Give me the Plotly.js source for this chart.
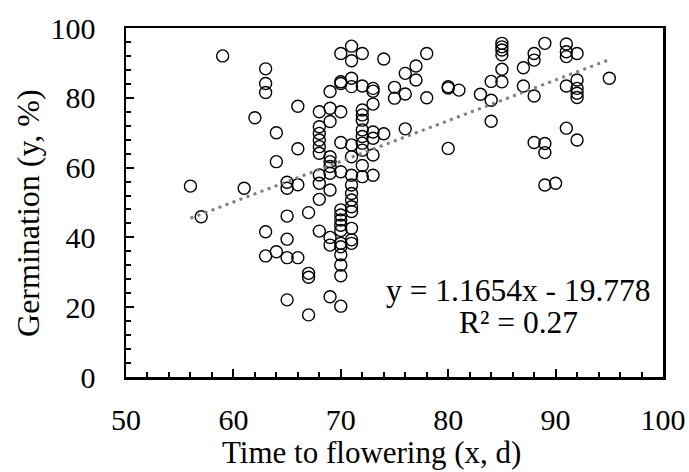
<!DOCTYPE html>
<html><head><meta charset="utf-8">
<script src="https://cdn.plot.ly/plotly-3.0.1.min.js"></script>
<style>html,body{margin:0;padding:0;background:#fff}</style>
</head><body><div id="chart" style="width:689px;height:472px"></div>
<script>
// Time to flowering (days)
const floweringDays = [
  56, 57, 59, 61, 62,
  63, 63, 63, 63, 63,
  64, 64, 64,
  65, 65, 65, 65, 65, 65,
  66, 66, 66, 66,
  67, 67, 67, 67,
  68, 68, 68, 68, 68, 68, 68, 68, 68, 68,
  69, 69, 69, 69, 69, 69, 69, 69, 69, 69, 69,
  70, 70, 70, 70, 70, 70, 70, 70, 70, 70, 70, 70, 70, 70, 70, 70, 70,
  71, 71, 71, 71, 71, 71, 71, 71, 71, 71, 71, 71, 71, 71, 71,
  72, 72, 72, 72, 72, 72, 72, 72, 72, 72, 72,
  73, 73, 73, 73, 73, 73, 73,
  74, 74, 75, 75, 76, 76, 76, 77, 77, 78, 78,
  80, 80, 80, 81, 83, 84, 84, 84,
  85, 85, 85, 85, 85, 85,
  87, 87, 88, 88, 88, 88,
  89, 89, 89, 89, 90,
  91, 91, 91, 91, 91,
  92, 92, 92, 92, 92, 92,
  95
];
// Germination (%)
const germinationPct = [
  54.7, 45.9, 92.0, 54.1, 74.3,
  88.3, 84.1, 81.5, 41.6, 34.7,
  70.0, 61.7, 35.9,
  55.8, 54.1, 46.1, 39.5, 34.2, 22.1,
  77.6, 65.4, 55.1, 34.2,
  47.1, 29.7, 28.6, 17.8,
  76.0, 71.7, 69.8, 67.9, 66.0, 64.1, 57.9, 55.5, 50.9, 41.8,
  81.8, 77.0, 73.2, 63.1, 61.7, 60.3, 58.4, 53.6, 40.0, 37.8, 23.0,
  92.7, 84.6, 84.1, 76.0, 67.2, 58.8, 47.9, 46.4, 45.0, 43.5, 42.0, 38.3, 37.3, 35.0, 32.1, 29.0, 20.3,
  94.8, 90.6, 85.6, 83.2, 66.5, 63.1, 57.8, 55.0, 52.6, 50.7, 48.8, 47.4, 42.6, 39.3, 38.3,
  92.7, 83.4, 76.5, 75.1, 73.6, 70.8, 68.9, 67.0, 65.0, 60.6, 57.4,
  82.7, 81.9, 78.2, 70.2, 68.4, 63.6, 57.8,
  91.1, 69.7, 83.0, 79.9, 87.0, 81.1, 71.1, 89.1, 85.1, 92.7, 80.0,
  83.2, 82.8, 65.5, 82.2, 81.0, 84.7, 79.3, 73.3,
  95.6, 94.6, 93.7, 92.3, 88.2, 84.6,
  88.6, 83.4, 92.7, 90.8, 80.5, 67.2,
  95.6, 66.9, 64.3, 55.0, 55.5,
  95.4, 93.2, 91.8, 83.4, 71.3,
  92.7, 85.1, 82.7, 81.3, 80.1, 67.9,
  85.6
];
// Linear trend line (as reported on the chart)
const trendSlope = 1.1654;
const trendIntercept = -19.778;
const trendR2 = 0.27;
const xTickVals = [50, 60, 70, 80, 90, 100];
const yTickVals = [0, 20, 40, 60, 80, 100];
const xTitle = 'Time to flowering (x, d)';
const yTitle = 'Germination (y, %)';

const xMin = Math.min(...floweringDays), xMax = Math.max(...floweringDays);
const trendX = [xMin, xMax];
const trendY = trendX.map(x => trendSlope * x + trendIntercept);

const font = {family: '"Liberation Serif", "Times New Roman", serif', color: '#000'};
const f = s => Object.assign({size: s}, font);

const traces = [
  {
    x: floweringDays, y: germinationPct, type: 'scatter', mode: 'markers',
    marker: {symbol: 'circle-open', size: 12, color: '#000', line: {width: 1.4, color: '#000'}},
    hoverinfo: 'x+y'
  },
  {
    x: trendX, y: trendY, type: 'scatter', mode: 'lines',
    line: {color: '#7f7f7f', width: 3, dash: '3px,4.5px'},
    hoverinfo: 'skip'
  }
];

const layout = {
  width: 689, height: 472,
  margin: {l: 126, r: 26, t: 28, b: 95},
  paper_bgcolor: '#fff', plot_bgcolor: '#fff',
  showlegend: false,
  font: f(30),
  xaxis: {
    range: [50, 100], tickvals: xTickVals, ticktext: xTickVals.map(String),
    ticks: 'inside', ticklen: 8, tickwidth: 2, tickcolor: '#000',
    minor: {dtick: 2, ticks: 'inside', ticklen: 5, tickwidth: 2, tickcolor: '#000'},
    showline: true, linewidth: 2.5, linecolor: '#000', mirror: true,
    showgrid: false, zeroline: false,
    ticklabelstandoff: 14,
    tickfont: f(30)
  },
  yaxis: {
    range: [0, 100], tickvals: yTickVals, ticktext: yTickVals.map(String),
    ticks: 'inside', ticklen: 8, tickwidth: 2, tickcolor: '#000',
    minor: {dtick: 4, ticks: 'inside', ticklen: 5, tickwidth: 2, tickcolor: '#000'},
    showline: true, linewidth: 2.5, linecolor: '#000', mirror: true,
    showgrid: false, zeroline: false,
    ticklabelstandoff: 22,
    tickfont: f(30)
  },
  annotations: [
    {x: 0.458, y: -0.216, xref: 'paper', yref: 'paper', xanchor: 'center', yanchor: 'middle', showarrow: false,
     borderpad: 0, text: xTitle, font: f(31)},
    {x: -0.1825, y: 0.47, xref: 'paper', yref: 'paper', xanchor: 'center', yanchor: 'middle', showarrow: false,
     textangle: -90, text: yTitle, font: f(32)},
    {x: 86.5, y: 24.9, xref: 'x', yref: 'y', xanchor: 'center', yanchor: 'middle', showarrow: false,
     text: 'y = ' + trendSlope + 'x - ' + Math.abs(trendIntercept), font: f(31.5)},
    {x: 86.5, y: 15.5, xref: 'x', yref: 'y', xanchor: 'center', yanchor: 'middle', showarrow: false,
     text: 'R² = ' + trendR2, font: f(31.5)}
  ]
};

Plotly.newPlot('chart', traces, layout, {displayModeBar: false, staticPlot: true});
</script>
</body></html>
